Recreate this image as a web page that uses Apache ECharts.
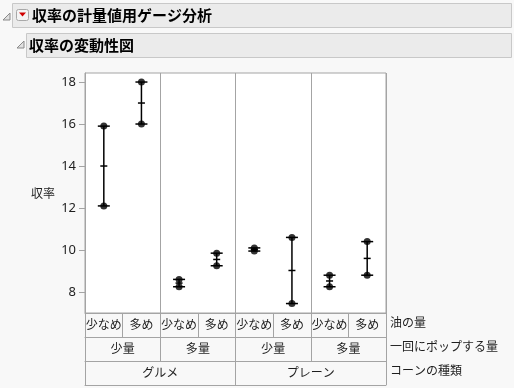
<!DOCTYPE html>
<html><head><meta charset="utf-8">
<script src="https://cdn.jsdelivr.net/npm/echarts@6/dist/echarts.min.js"></script>
<style>html,body{margin:0;padding:0;background:#f8f8f8}#c{width:514px;height:388px}</style>
</head><body><div id="c"></div>
<script>
const oilAmount = ['少なめ','多め','少なめ','多め','少なめ','多め','少なめ','多め'];
const popAmount = ['少量','多量','少量','多量'];
const cornType = ['グルメ','プレーン'];
const obsA = [15.9, 18.0, 8.6, 9.85, 10.1, 10.6, 8.8, 10.4];
const obsB = [12.1, 16.0, 8.25, 9.25, 9.95, 7.45, 8.25, 8.8];
const yTicks = [8, 10, 12, 14, 16, 18];
const rowTitles = ['油の量', '一回にポップする量', 'コーンの種類'];
const yName = '収率';
const title1 = '収率の計量値用ゲージ分析';
const title2 = '収率の変動性図';

const JP = '"Noto Sans CJK JP", "Noto Sans", sans-serif';
const LINE = '#a4a4a4';
const TXT = '#1e1e1e';

const rangeData = obsA.map((a, i) => {
  const b = obsB[i];
  return [i, Math.min(a, b), Math.max(a, b), (a + b) / 2];
});
const pointData = [];
obsA.forEach((v, i) => pointData.push([i, v]));
obsB.forEach((v, i) => pointData.push([i, v]));

function tableAxis(data, offset, name, extra) {
  return Object.assign({
    type: 'category', data: data, position: 'bottom', offset: offset, gridIndex: 0,
    boundaryGap: true,
    axisLine: { show: true, lineStyle: { color: LINE, width: 1 } },
    axisTick: { show: true, interval: 0, length: 24, inside: false, lineStyle: { color: LINE, width: 1 } },
    axisLabel: { show: true, interval: 0, margin: 5, fontSize: 12, color: TXT, fontFamily: JP },
    splitLine: { show: false },
    name: name, nameLocation: 'end', nameGap: 4,
    nameTextStyle: { fontSize: 12, color: TXT, fontFamily: JP, align: 'left', verticalAlign: 'top', padding: [3, 0, 0, 0] }
  }, extra || {});
}

const chart = echarts.init(document.getElementById('c'), null, { renderer: 'canvas' });
chart.setOption({
  backgroundColor: '#f8f8f8',
  animation: false,
  grid: { left: 85, right: 128, top: 73, bottom: 75, show: true, backgroundColor: '#ffffff', borderColor: LINE, borderWidth: 1 },
  xAxis: [
    tableAxis(oilAmount, 0, rowTitles[0], {
      splitLine: { show: true, interval: function (i) { return i % 2 === 0; }, lineStyle: { color: LINE, width: 1 } }
    }),
    tableAxis(popAmount, 24, rowTitles[1]),
    tableAxis(cornType, 48, rowTitles[2]),
    tableAxis([''], 72, '', { axisTick: { show: false }, axisLabel: { show: false } })
  ],
  yAxis: {
    type: 'value', min: 7, max: 18.43,
    axisLine: { show: true, lineStyle: { color: LINE } },
    axisTick: { show: true, customValues: yTicks, length: 6, lineStyle: { color: LINE } },
    axisLabel: { show: true, customValues: yTicks, margin: 9, fontSize: 13, color: TXT, fontFamily: '"Noto Sans", sans-serif' },
    splitLine: { show: false },
    name: yName, nameLocation: 'middle', nameRotate: 0, nameGap: 30,
    nameTextStyle: { fontSize: 12, color: TXT, fontFamily: JP, align: 'right' }
  },
  series: [
    {
      type: 'custom', xAxisIndex: 0, yAxisIndex: 0,
      data: rangeData,
      encode: { x: 0, y: [1, 2, 3] },
      renderItem: function (params, api) {
        const x = api.value(0);
        const lo = api.coord([x, api.value(1)]);
        const hi = api.coord([x, api.value(2)]);
        const mn = api.coord([x, api.value(3)]);
        const cx = lo[0];
        const st = { stroke: '#000', lineWidth: 1.5 };
        return {
          type: 'group', children: [
            { type: 'line', shape: { x1: cx, y1: lo[1], x2: cx, y2: hi[1] }, style: st },
            { type: 'line', shape: { x1: cx - 6, y1: lo[1], x2: cx + 6, y2: lo[1] }, style: st },
            { type: 'line', shape: { x1: cx - 6, y1: hi[1], x2: cx + 6, y2: hi[1] }, style: st },
            { type: 'line', shape: { x1: cx - 3.5, y1: mn[1], x2: cx + 3.5, y2: mn[1] }, style: st }
          ]
        };
      },
      z: 2
    },
    {
      type: 'scatter', xAxisIndex: 0, yAxisIndex: 0,
      data: pointData, symbol: 'circle', symbolSize: 7,
      itemStyle: { color: '#000' }, z: 3
    }
  ],
  graphic: [
    { type: 'rect', shape: { x: 12.5, y: 3.5, width: 499, height: 24 }, style: { fill: '#ebebeb', stroke: '#c8c8c8', lineWidth: 1 } },
    { type: 'rect', shape: { x: 26.5, y: 33.5, width: 485, height: 24 }, style: { fill: '#ebebeb', stroke: '#c8c8c8', lineWidth: 1 } },
    { type: 'polygon', shape: { points: [[10, 13], [10, 20], [3, 20]] }, style: { fill: '#e0e0e0', stroke: '#8a8a8a', lineWidth: 1 } },
    { type: 'polygon', shape: { points: [[24, 41], [24, 48], [17, 48]] }, style: { fill: '#e0e0e0', stroke: '#8a8a8a', lineWidth: 1 } },
    { type: 'rect', shape: { x: 16.5, y: 9.5, width: 12, height: 11, r: 2 }, style: { fill: '#f4f4f4', stroke: '#a8a8a8', lineWidth: 1 } },
    { type: 'polygon', shape: { points: [[19, 12.5], [26, 12.5], [22.5, 16.5]] }, style: { fill: '#d00000' } },
    { type: 'text', x: 32, y: 15.5, style: { text: title1, font: 'bold 15px ' + JP, fill: '#000', verticalAlign: 'middle', align: 'left' } },
    { type: 'text', x: 29, y: 45, style: { text: title2, font: 'bold 15px ' + JP, fill: '#000', verticalAlign: 'middle', align: 'left' } }
  ]
});
</script>
</body></html>
